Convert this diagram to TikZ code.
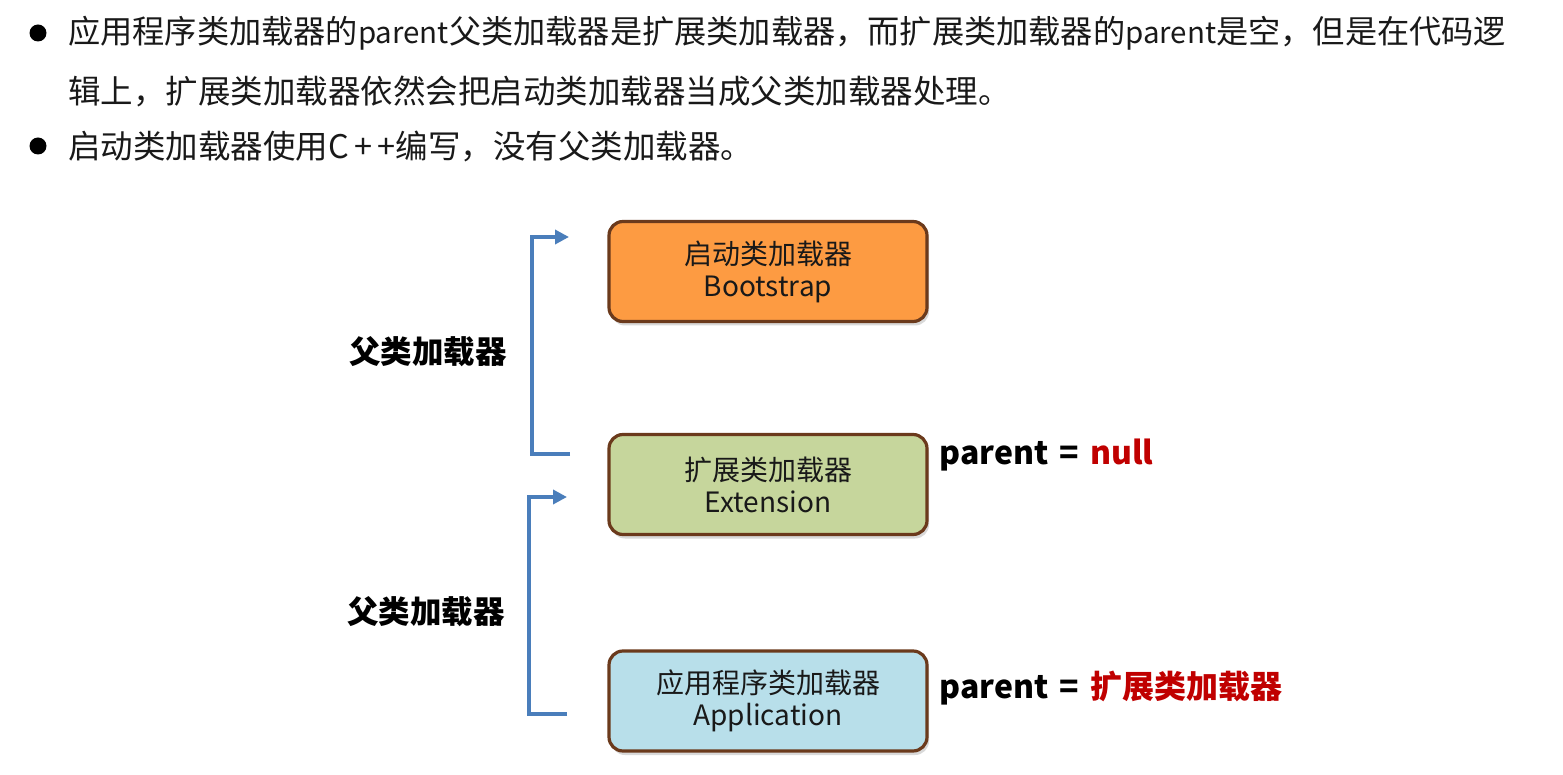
\documentclass[tikz,border=0pt]{standalone}
\usepackage{fontspec}
\setmainfont{Noto Sans CJK SC}
\usetikzlibrary{shadows,arrows.meta}
\definecolor{boxborder}{HTML}{6B3A1C}
\definecolor{orangefill}{HTML}{FD9B42}
\definecolor{greenfill}{HTML}{C6D69C}
\definecolor{bluefill}{HTML}{B8DFEA}
\definecolor{arrowblue}{HTML}{4A7EBB}
\definecolor{nullred}{HTML}{C00000}
\newcommand{\narrowlatin}[1]{{\fontsize{29.5}{38}\selectfont #1}}
\tikzset{
  loader/.style={draw=boxborder, line width=3.2pt, rounded corners=14pt,
    minimum width=318pt, minimum height=100pt, align=center,
    font=\fontsize{28}{32}\selectfont, text=black!90,
    drop shadow={shadow xshift=2pt, shadow yshift=-4pt, opacity=0.25, fill=black!60}},
  bracket/.style={draw=arrowblue, line width=4pt, -{Triangle[length=14pt,width=14pt]}},
  sidelabel/.style={font=\fontsize{31.5}{36}\selectfont\bfseries},
  parentlabel/.style={font=\fontsize{32}{38}\selectfont\bfseries, anchor=west},
  bullettext/.style={font=\fontsize{32.5}{38}\selectfont, anchor=west, text=black!90, inner sep=0pt},
  bulletdot/.style={circle, fill=black, minimum size=17pt, inner sep=0pt}
}
\begin{document}
\begin{tikzpicture}[x=1pt,y=-1pt]
\useasboundingbox (0,0) rectangle (1563,775);
% bullets
\node[bulletdot] (b1) at (38,33) {};
\node[bullettext, font=\fontsize{32.2}{38}\selectfont] (t1) at (68,33) {应用程序类加载器的\narrowlatin{parent}父类加载器是扩展类加载器，而扩展类加载器的\narrowlatin{parent}是空，但是在代码逻};
\node[bullettext] (t2) at (68,91) {辑上，扩展类加载器依然会把启动类加载器当成父类加载器处理。};
\node[bulletdot] (b2) at (38,146) {};
\node[bullettext] (t3) at (68,146) {启动类加载器使用C\,+\,+编写，没有父类加载器。};
% loader boxes
\node[loader, fill=orangefill] (boot) at (768,271.5) {启动类加载器\\Bootstrap};
\node[loader, fill=greenfill] (ext) at (768,484.5) {扩展类加载器\\Extension};
\node[loader, fill=bluefill] (app) at (768,701) {应用程序类加载器\\Application};
% bracket anchors
\coordinate (e1) at (570,454);
\coordinate (s1) at (569,237);
\coordinate (e2) at (567,714);
\coordinate (s2) at (567,497);
\draw[bracket] (e1) -- (532,454) -- (532,237) -- (s1);
\draw[bracket] (e2) -- (529,714) -- (529,497) -- (s2);
% side labels
\node[sidelabel] (l1) at (428,352) {父类加载器};
\node[sidelabel] (l2) at (426,612) {父类加载器};
% parent labels
\node[parentlabel] (p1) at (936,455) {parent\hspace{0.35em}=\hspace{0.35em}\textcolor{nullred}{null}};
\node[parentlabel] (p2) at (936,688) {parent\hspace{0.35em}=\hspace{0.35em}\textcolor{nullred}{扩展类加载器}};
\end{tikzpicture}
\end{document}
